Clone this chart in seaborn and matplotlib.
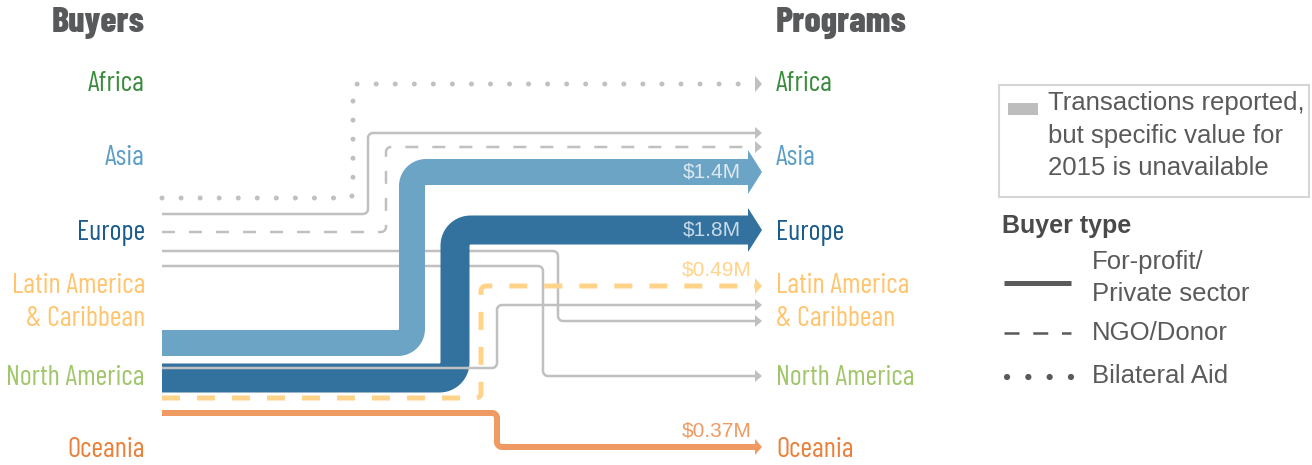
import numpy as np
import matplotlib
matplotlib.use("Agg")
import matplotlib.pyplot as plt
from matplotlib.patches import Polygon, Rectangle
import seaborn as sns

# regions (same list on both sides)
regions = ["Africa", "Asia", "Europe", "Latin America\n& Caribbean", "North America", "Oceania"]
region_colors = ["#3A8B3C", "#5B9DC6", "#1B5C8C", "#FFC56E", "#A2C66B", "#E9813B"]

# flows buyer -> program
flow_src = ["Europe", "Europe", "Europe", "Europe", "Europe",
            "North America", "North America", "North America", "North America", "North America"]
flow_dst = ["Africa", "Asia", "Asia", "Latin America\n& Caribbean", "North America",
            "Asia", "Europe", "Latin America\n& Caribbean", "Latin America\n& Caribbean", "Oceania"]
flow_type = ["Bilateral Aid", "For-profit", "NGO/Donor", "For-profit", "For-profit",
             "For-profit", "For-profit", "For-profit", "NGO/Donor", "For-profit"]
flow_value = [None, None, None, None, None, 1.4, 1.8, None, 0.49, 0.37]

# layout (pixels)
node_y = [82, 156, 231, 300, 376, 448]
src_off = [-33, -17, 1, 20, 35, -33, 2, -8, 22, 37]
dst_off = [2, -23, -9, 21, 0, 16, -1, 5, -14, -1]
turn_x = [353, 368, 386, 558, 543, 412, 455, 497, 481, 497]
band_px = [5, 2.5, 2.5, 2.5, 2.5, 26, 29, 2.5, 5, 6]
X0, X1 = 162, 762

gray = "#C0C0C0"
flow_colors = {"Asia": "#6CA4C5", "Europe": "#33729E",
               "Latin America\n& Caribbean": "#FFD38A", "Oceania": "#EF9A62"}
value_text_colors = {"Asia": "#DCE9F2", "Europe": "#C8DAEA",
                     "Latin America\n& Caribbean": "#FFD38A", "Oceania": "#EF9A62"}

sns.set_theme(style="white")
cond = ["Barlow Condensed", "Liberation Sans Narrow", "DejaVu Sans"]
plain = ["Liberation Sans", "DejaVu Sans"]
PT = 0.72  # points per pixel at dpi 100


def step_path(x0, y0, xt, y1, x1, r):
    s = np.sign(y1 - y0) if y1 != y0 else 1
    t = np.linspace(0, np.pi / 2, 12)
    xs = [x0]
    ys = [y0]
    xs += list(xt - r + r * np.sin(t))
    ys += list(y0 + s * r - s * r * np.cos(t))
    xs += list(xt + r - r * np.cos(t))
    ys += list(y1 - s * r + s * r * np.sin(t))
    xs.append(x1)
    ys.append(y1)
    return np.array(xs), np.array(ys)


fig = plt.figure(figsize=(13.12, 4.65), dpi=100)
ax = fig.add_axes([0, 0, 1, 1])

ypos = dict(zip(regions, node_y))
for i in range(len(flow_src)):
    y0 = ypos[flow_src[i]] + src_off[i]
    y1 = ypos[flow_dst[i]] + dst_off[i]
    w = band_px[i]
    val = flow_value[i]
    color = flow_colors[flow_dst[i]] if val is not None else gray
    thick = w > 10
    head_len = 14 if thick else 7
    r = w / 2 + 1 if thick else 5
    xs, ys = step_path(X0, y0, turn_x[i], y1, X1 - head_len + 1, r)
    kw = dict(solid_capstyle="butt", solid_joinstyle="round")
    if flow_type[i] == "NGO/Donor":
        kw = dict(linestyle=(0, (18 / w, 17 / w)) if w > 4 else (0, (5.2, 5.6)),
                  dash_capstyle="butt")
    elif flow_type[i] == "Bilateral Aid":
        kw = dict(linestyle=(0, (0.01, 19 / w)), dash_capstyle="round")
    sns.lineplot(x=xs, y=ys, sort=False, estimator=None, ax=ax, color=color,
                 linewidth=w * PT, **kw)
    hh = 22 if thick else (8 if w > 4 else 6)
    ax.add_patch(Polygon([[X1 - head_len, y1 - hh], [X1, y1], [X1 - head_len, y1 + hh]],
                         closed=True, color=color, lw=0))
    if val is not None:
        label = f"${val:g}M"
        if thick:
            ax.text(741, y1, label, ha="right", va="center", fontsize=15,
                    family=plain, color=value_text_colors[flow_dst[i]])
        else:
            ax.text(752, y1 - 16, label, ha="right", va="center", fontsize=15,
                    family=plain, color=value_text_colors[flow_dst[i]])

# region labels
for name, y, c in zip(regions, node_y, region_colors):
    ax.text(145, y + 2, name, ha="right", va="center", fontsize=20.5, family=cond,
            weight="normal", color=c, linespacing=1.35)
    ax.text(776, y + 2, name, ha="left", va="center", fontsize=20.5, family=cond,
            weight="normal", color=c, linespacing=1.35)

ax.text(145, 23, "Buyers", ha="right", va="center", fontsize=26, family=cond,
        weight="heavy", color="#58595B")
ax.text(776, 23, "Programs", ha="left", va="center", fontsize=26, family=cond,
        weight="heavy", color="#58595B")

# legend
txt = "#5A5A5A"
ax.add_patch(Rectangle((999, 85), 310, 112, fill=False, edgecolor="#D6D6D6", lw=1.5))
ax.add_patch(Rectangle((1008, 103), 30, 12, color="#BDBDBD", lw=0))
ax.text(1048, 91, "Transactions reported,\nbut specific value for\n2015 is unavailable",
        ha="left", va="top", fontsize=18.5, family=plain, color=txt, linespacing=1.45)
ax.text(1002, 226, "Buyer type", ha="left", va="center", fontsize=18, family=plain,
        weight="bold", color="#4A4A4A")
ax.text(1092, 278, "For-profit/\nPrivate sector", ha="left", va="center", fontsize=18.5,
        family=plain, color=txt, linespacing=1.38)
ax.text(1092, 333, "NGO/Donor", ha="left", va="center", fontsize=18.5, family=plain, color=txt)
ax.text(1092, 376, "Bilateral Aid", ha="left", va="center", fontsize=18.5, family=plain, color=txt)
leg_x = np.array([1004, 1071])
sns.lineplot(x=leg_x, y=[283, 283], ax=ax, color="#5A5A5A", linewidth=3.6,
             solid_capstyle="butt")
sns.lineplot(x=leg_x, y=[333, 333], ax=ax, color="#5A5A5A", linewidth=1.8,
             linestyle=(0, (6, 5.5)), dash_capstyle="butt")
sns.lineplot(x=np.array([1007, 1071]), y=[377, 377], ax=ax, color="#5A5A5A", linewidth=4.5,
             linestyle=(0, (0.01, 3.4)), dash_capstyle="round")

ax.set_xlim(0, 1312)
ax.set_ylim(465, 0)
ax.axis("off")
fig.savefig("out.png", dpi=100)
